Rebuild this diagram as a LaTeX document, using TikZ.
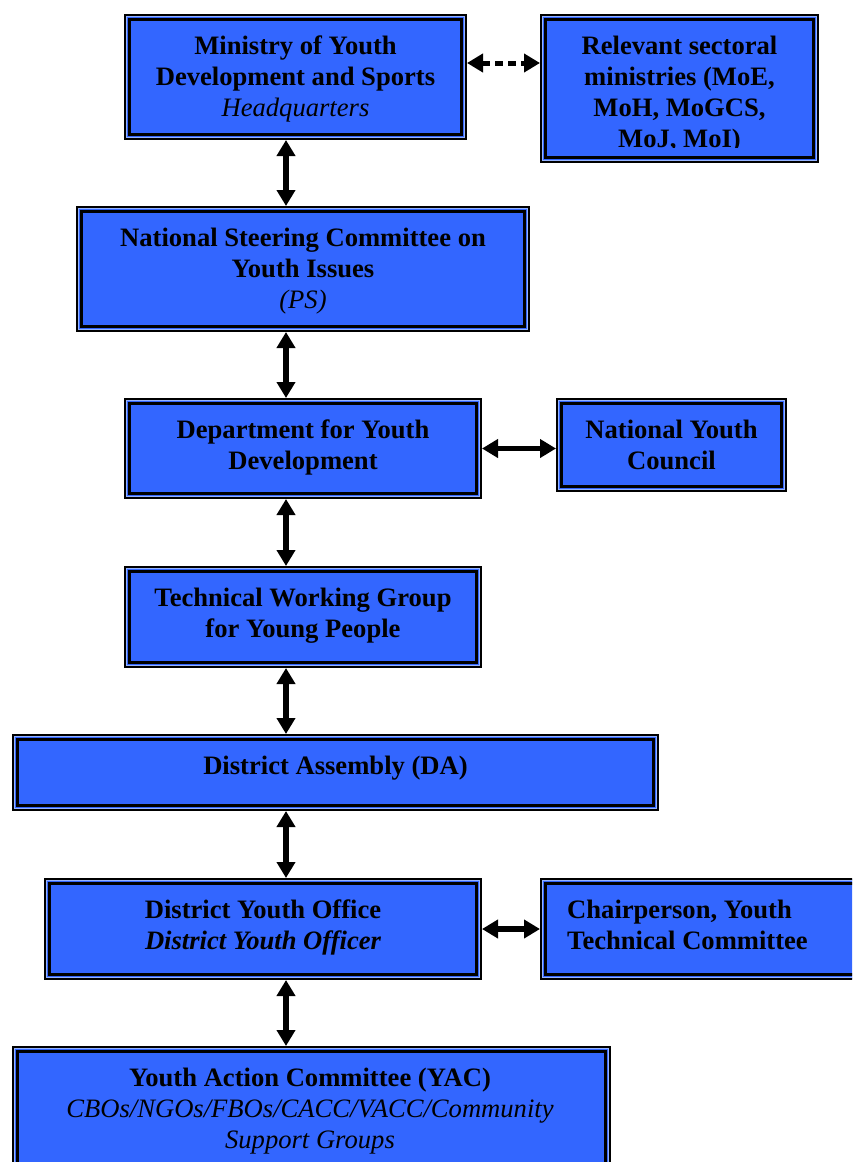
\documentclass[tikz,border=0pt]{standalone}
\usepackage{fontspec}
\setmainfont{Liberation Serif}
\usetikzlibrary{arrows.meta,calc}
\definecolor{boxblue}{RGB}{51,102,255}
\definecolor{lineblue}{RGB}{150,180,255}
\tikzset{
  obox/.style={draw=black, line width=2pt, fill=boxblue, inner sep=0pt, rectangle},
  iline/.style={draw=black, line width=3pt},
  lline/.style={draw=lineblue, line width=0.8pt},
  txt/.style={font=\fontsize{26.6}{31}\selectfont\bfseries, align=center, inner sep=0pt, text=black},
  link/.style={line width=5.5pt, {Triangle[width=18pt,length=16pt]}-{Triangle[width=18pt,length=16pt]}},
  dotlink/.style={line width=5pt, dash pattern=on 8pt off 5pt, {Triangle[width=18pt,length=16pt]}-{Triangle[width=18pt,length=16pt]}}
}
\newcommand\obx[5]{%
  \node[obox, anchor=north west, minimum width={(#4-#2)*1pt}, minimum height={(#5-#3)*1pt}] (#1) at (#2,#3) {};
  \draw[lline] ([shift={(2.3,2.3)}]#1.north west) rectangle ([shift={(-2.3,-2.3)}]#1.south east);
  \draw[iline] ([shift={(5.5,5.5)}]#1.north west) rectangle ([shift={(-5.5,-5.5)}]#1.south east);
}
\begin{document}
\begin{tikzpicture}[x=1pt,y=-1pt]
\clip (0,0) rectangle (852,1162);
\fill[white] (0,0) rectangle (852,1162);
\obx{min}{124}{14}{465}{138}
\obx{rel}{540}{14}{817}{161}
\obx{nsc}{76}{206}{528}{330}
\obx{dept}{124}{398}{480}{497}
\obx{nyc}{556}{398}{785}{490}
\obx{twg}{124}{566}{480}{666}
\obx{da}{12}{734}{657}{809}
\obx{dyo}{44}{878}{480}{978}
\obx{chair}{540}{878}{940}{978}
\obx{yac}{12}{1046}{609}{1240}

% anchor=base of a multi-line node is the baseline of its last line
\node[txt, anchor=base] (mint) at ([yshift=-102pt]min.north) {Ministry of Youth\\Development and Sports\\\mdseries\itshape Headquarters};
\begin{scope}
\clip (545,20) rectangle (812,147);
\node[txt, anchor=base] (relt) at ([yshift=-133pt]rel.north) {Relevant sectoral\\ministries (MoE,\\MoH, MoGCS,\\MoJ, MoI)};
\end{scope}
\node[txt, anchor=base] (nsct) at ([yshift=-102pt]nsc.north) {National Steering Committee on\\Youth Issues\\\mdseries\itshape (PS)};
\node[txt, anchor=base] (deptt) at ([yshift=-71pt]dept.north) {Department for Youth\\Development};
\node[txt, anchor=base] (nyct) at ([yshift=-71pt]nyc.north) {National Youth\\Council};
\node[txt, anchor=base] (twgt) at ([yshift=-71pt]twg.north) {Technical Working Group\\for Young People};
\node[txt, anchor=base] (dat) at ([yshift=-40pt]da.north) {District Assembly (DA)};
\node[txt, anchor=base] (dyot) at ([yshift=-71pt]dyo.north) {District Youth Office\\\itshape District Youth Officer};
\node[txt, anchor=base west, align=left] (chairt) at (567,949) {Chairperson, Youth\\Technical Committee};
\coordinate (yx) at (310,0);
\node[txt, anchor=base] (yact) at ([yshift=-102pt]yac.north -| yx) {Youth Action Committee (YAC)\\\mdseries\itshape CBOs/NGOs/FBOs/CACC/VACC/Community\\\mdseries\itshape Support Groups};

\coordinate (ax) at (286,0);
\coordinate (h1) at (0,63);
\draw[link] (min.south -| ax) -- (nsc.north -| ax);
\draw[link] (nsc.south -| ax) -- (dept.north -| ax);
\draw[link] (dept.south -| ax) -- (twg.north -| ax);
\draw[link] (twg.south -| ax) -- (da.north -| ax);
\draw[link] (da.south -| ax) -- (dyo.north -| ax);
\draw[link] (dyo.south -| ax) -- (yac.north -| ax);
\draw[dotlink] (min.east |- h1) -- (rel.west |- h1);
\draw[link] (dept.east) -- (dept.east -| nyc.west);
\draw[link] (dyo.east) -- (dyo.east -| chair.west);
\end{tikzpicture}
\end{document}
